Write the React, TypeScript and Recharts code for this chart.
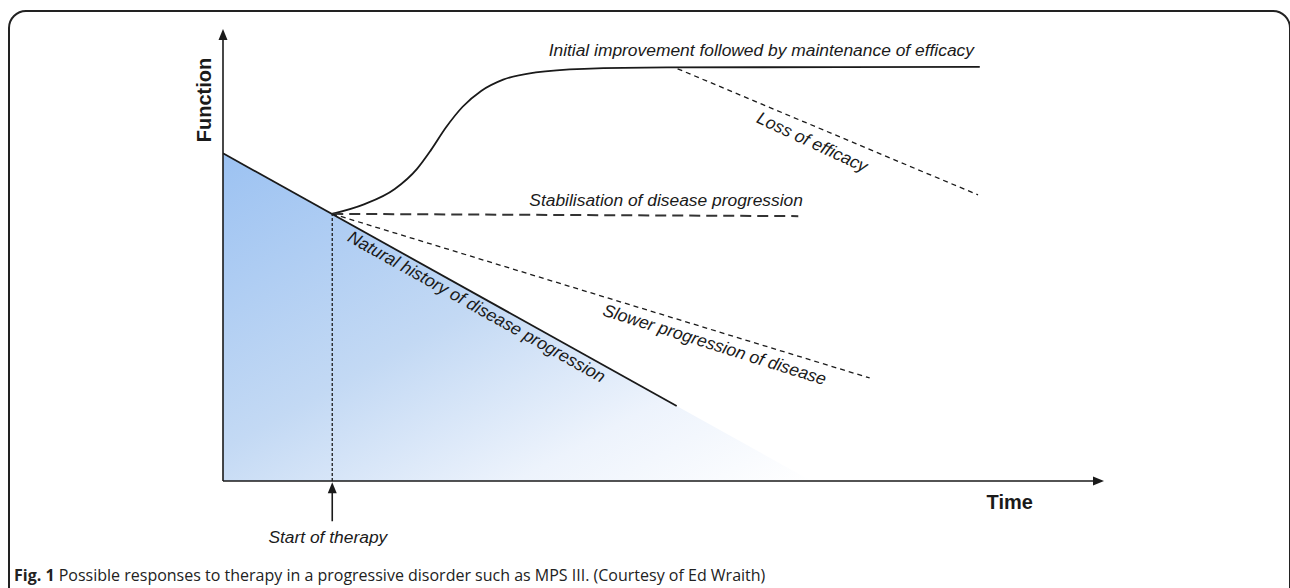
import React from 'react';
import { ComposedChart, Line, Area, XAxis, YAxis, ReferenceLine, ReferenceDot } from 'recharts';

// Conceptual axes: time 0-100, function 0-100 (negative range used for space under the time axis)
const naturalHistory = [{ t: 0, f: 72.5 }, { t: 51.5, f: 16.6 }];
const naturalHistoryFill = [{ t: 0, f: 72.5 }, { t: 51.5, f: 16.6 }, { t: 66.8, f: 0 }];
const improvement = [
  { t: 12.4, f: 59.1 },
  { t: 16.0, f: 61.2 },
  { t: 19.5, f: 64.6 },
  { t: 22.0, f: 69.0 },
  { t: 23.6, f: 73.2 },
  { t: 25.3, f: 78.2 },
  { t: 27.2, f: 82.8 },
  { t: 29.3, f: 86.3 },
  { t: 31.8, f: 88.8 },
  { t: 35.5, f: 90.4 },
  { t: 41.0, f: 91.2 },
  { t: 50.4, f: 91.5 },
  { t: 85.9, f: 91.6 },
];
const lossOfEfficacy = [{ t: 51.6, f: 91.2 }, { t: 85.7, f: 63.3 }];
const stabilisation = [{ t: 12.4, f: 59.1 }, { t: 65.3, f: 58.6 }];
const slowerProgression = [{ t: 12.4, f: 59.1 }, { t: 73.4, f: 22.8 }];
const therapyStart = [{ t: 12.4, f: 0 }, { t: 12.4, f: 59.1 }];
const therapyArrow = [{ t: 12.4, f: -8.9 }, { t: 12.4, f: -1.5 }];

const curveLabels = [
  { text: 'Initial improvement followed by maintenance of efficacy', t: 61.1, f: 95.4, angle: 0 },
  { text: 'Loss of efficacy', t: 66.9, f: 75.0, angle: 25 },
  { text: 'Stabilisation of disease progression', t: 50.3, f: 62.2, angle: 0 },
  { text: 'Natural history of disease progression', t: 28.8, f: 38.6, angle: 29.2 },
  { text: 'Slower progression of disease', t: 55.8, f: 30.2, angle: 17.5 },
  { text: 'Start of therapy', t: 11.9, f: -12.4, angle: 0 },
];
const axisLabels = [
  { text: 'Function', t: -2.2, f: 84.3, angle: -90 },
  { text: 'Time', t: 89.3, f: -4.6, angle: 0 },
];

const INK = '#1a1a1a';
const ITALIC_FONT = '"Liberation Sans", Arial, sans-serif';

const makeText = (text: string, angle: number, bold: boolean) => (p: any) => {
  const { cx, cy } = p;
  if (cx == null || cy == null) return <g />;
  return (
    <text
      x={cx}
      y={cy}
      textAnchor="middle"
      dominantBaseline="central"
      transform={angle ? `rotate(${angle} ${cx} ${cy})` : undefined}
      fontFamily={ITALIC_FONT}
      fontStyle={bold ? 'normal' : 'italic'}
      fontWeight={bold ? 700 : 400}
      fontSize={bold ? 20 : 17.4}
      fill={INK}
    >
      {text}
    </text>
  );
};

const arrowHead = (dir: 'up' | 'right') => (p: any) => {
  const { cx, cy } = p;
  if (cx == null || cy == null) return <g />;
  const pts =
    dir === 'right'
      ? `${cx},${cy} ${cx - 11},${cy - 4.5} ${cx - 11},${cy + 4.5}`
      : `${cx},${cy} ${cx - 4.5},${cy + 11} ${cx + 4.5},${cy + 11}`;
  return <polygon points={pts} fill={INK} />;
};

export default function App() {
  return (
    <div style={{ position: 'absolute', left: 0, top: 0, width: 1290, height: 588, overflow: 'hidden', background: '#fff' }}>
      <div
        style={{
          position: 'absolute',
          left: 8,
          top: 10,
          width: 1283,
          height: 700,
          boxSizing: 'border-box',
          border: '2px solid #222',
          borderRadius: 18,
        }}
      />
      <div style={{ position: 'absolute', left: 0, top: 0 }}>
        <ComposedChart
          width={1290}
          height={588}
          margin={{ top: 29, right: 186, bottom: 16.6, left: 223 }}
        >
          <defs>
            <linearGradient id="naturalFill" x1="0" y1="0" x2="1" y2="1">
              <stop offset="0" stopColor="#9cc2f2" />
              <stop offset="0.45" stopColor="#c3d9f4" />
              <stop offset="0.75" stopColor="#edf3fc" />
              <stop offset="1" stopColor="#ffffff" />
            </linearGradient>
          </defs>
          <XAxis type="number" dataKey="t" domain={[0, 100]} hide allowDataOverflow />
          <YAxis type="number" dataKey="f" domain={[-20, 100]} hide allowDataOverflow />
          <Area
            data={naturalHistoryFill}
            dataKey="f"
            type="linear"
            baseValue={0}
            stroke="none"
            fill="url(#naturalFill)"
            fillOpacity={1}
            isAnimationActive={false}
            dot={false}
            activeDot={false}
          />
          <ReferenceLine segment={[{ x: 0, y: 0 }, { x: 99, y: 0 }]} stroke={INK} strokeWidth={1.6} />
          <ReferenceLine segment={[{ x: 0, y: 0 }, { x: 0, y: 98 }]} stroke={INK} strokeWidth={1.6} />
          <ReferenceDot x={100} y={0} r={1} ifOverflow="visible" shape={arrowHead('right')} />
          <ReferenceDot x={0} y={100} r={1} ifOverflow="visible" shape={arrowHead('up')} />
          <Line data={therapyStart} dataKey="f" type="linear" stroke={INK} strokeWidth={1.3} strokeDasharray="3 2" dot={false} activeDot={false} isAnimationActive={false} />
          <Line data={therapyArrow} dataKey="f" type="linear" stroke={INK} strokeWidth={1.6} dot={false} activeDot={false} isAnimationActive={false} />
          <ReferenceDot x={12.4} y={-0.3} r={1} ifOverflow="visible" shape={arrowHead('up')} />
          <Line data={naturalHistory} dataKey="f" type="linear" stroke={INK} strokeWidth={1.8} dot={false} activeDot={false} isAnimationActive={false} />
          <Line data={improvement} dataKey="f" type="monotone" stroke={INK} strokeWidth={1.8} dot={false} activeDot={false} isAnimationActive={false} />
          <Line data={lossOfEfficacy} dataKey="f" type="linear" stroke={INK} strokeWidth={1.3} strokeDasharray="5 4" dot={false} activeDot={false} isAnimationActive={false} />
          <Line data={stabilisation} dataKey="f" type="linear" stroke="#333" strokeWidth={2} strokeDasharray="11 6" dot={false} activeDot={false} isAnimationActive={false} />
          <Line data={slowerProgression} dataKey="f" type="linear" stroke={INK} strokeWidth={1.3} strokeDasharray="5 4" dot={false} activeDot={false} isAnimationActive={false} />
          {curveLabels.map((l) => (
            <ReferenceDot key={l.text} x={l.t} y={l.f} r={1} ifOverflow="visible" shape={makeText(l.text, l.angle, false)} />
          ))}
          {axisLabels.map((l) => (
            <ReferenceDot key={l.text} x={l.t} y={l.f} r={1} ifOverflow="visible" shape={makeText(l.text, l.angle, true)} />
          ))}
        </ComposedChart>
      </div>
      <div
        style={{
          position: 'absolute',
          left: 14,
          top: 564,
          fontFamily: '"Open Sans", sans-serif',
          fontSize: 16,
          color: '#222',
          whiteSpace: 'nowrap',
        }}
      >
        <b>Fig. 1</b> Possible responses to therapy in a progressive disorder such as MPS III. (Courtesy of Ed Wraith)
      </div>
    </div>
  );
}
